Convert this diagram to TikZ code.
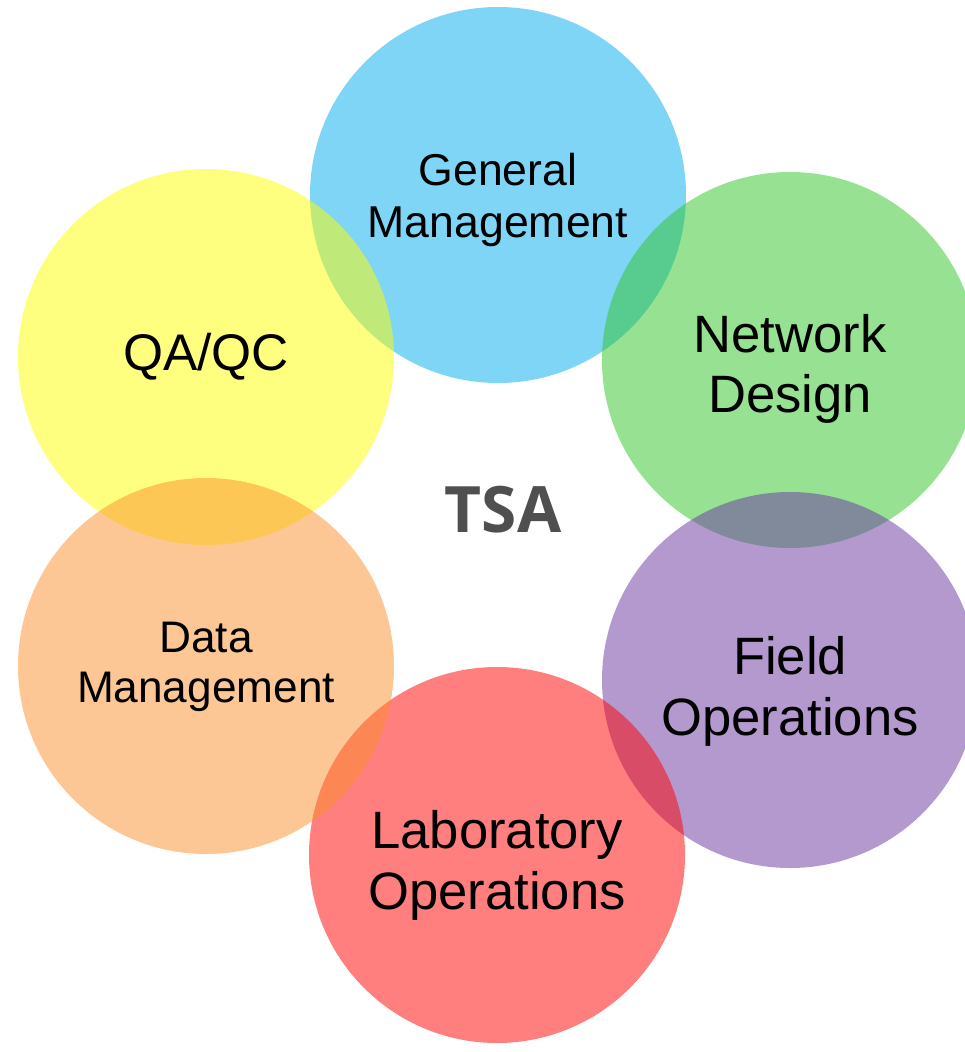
\documentclass[tikz,border=0pt]{standalone}
\usepackage{fontspec}
\setmainfont{Liberation Sans}
\newfontfamily\hubfont{Open Sans}
\definecolor{cBlue}{HTML}{00ADED}
\definecolor{cGreen}{HTML}{31C529}
\definecolor{cPurple}{HTML}{6B35A1}
\definecolor{cRed}{HTML}{FF0000}
\definecolor{cYellow}{HTML}{FFFF00}
\definecolor{cOrange}{HTML}{FB902C}
\definecolor{cHub}{HTML}{4F4F4F}
\tikzset{
  bubble/.style={circle, minimum size=376pt, inner sep=0pt, fill opacity=0.5, draw=none},
  lbl/.style={anchor=base, inner sep=0pt, text=black},
  small/.style={lbl, font=\fontsize{44.6}{52}\selectfont},
  large/.style={lbl, font=\fontsize{52.6}{60}\selectfont},
}
\begin{document}
\begin{tikzpicture}[x=1pt, y=-1pt]
  \useasboundingbox (0,0) rectangle (965,1052);
  \clip (0,0) rectangle (965,1052);
  \fill[white] (0,0) rectangle (965,1052);

  % six overlapping translucent discs
  \node[bubble, fill=cBlue]   (gm) at (498,195) {};
  \node[bubble, fill=cGreen]  (nd) at (790,360) {};
  \node[bubble, fill=cPurple] (fo) at (790,680) {};
  \node[bubble, fill=cRed]    (lo) at (497,855) {};
  \node[bubble, fill=cYellow] (qa) at (206,357) {};
  \node[bubble, fill=cOrange] (dm) at (206,666) {};

  % disc captions, one node per line
  \node[small] (gm1) at (498,185) {General};
  \node[small] (gm2) at (498,237) {Management};
  \node[large] (nd1) at (790,352) {Network};
  \node[large] (nd2) at (790,412) {Design};
  \node[large, font=\fontsize{51.5}{60}\selectfont] (qa1) at (206,370) {QA/QC};
  \node[small, font=\fontsize{44.2}{52}\selectfont] (dm1) at (206,652) {Data};
  \node[small, font=\fontsize{44.2}{52}\selectfont] (dm2) at (206,702) {Management};
  \node[large] (fo1) at (790,674) {Field};
  \node[large] (fo2) at (790,735) {Operations};
  \node[large] (lo1) at (497,848) {Laboratory};
  \node[large] (lo2) at (497,909) {Operations};

  % centre label
  \node[lbl, text=cHub, font=\hubfont\bfseries\fontsize{64}{70}\selectfont] (hub) at (503,532) {TSA};
\end{tikzpicture}
\end{document}
